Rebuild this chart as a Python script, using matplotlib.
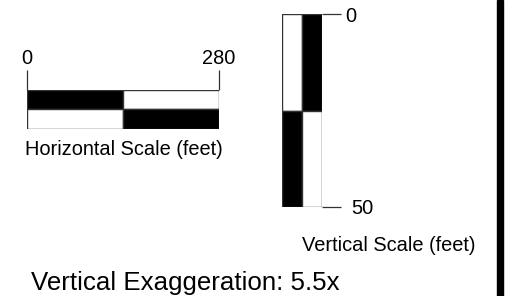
#!/usr/bin/env python3
# -*- coding: utf-8 -*-
# scale bars for a cross-section figure (horizontal / vertical scale in feet)
import matplotlib
matplotlib.use("Agg")
import matplotlib.pyplot as plt
from matplotlib.patches import Rectangle
from matplotlib.transforms import ScaledTranslation

# scale values (feet)
h_ticks = [0, 280]
h_segments = [(0, 140), (140, 140)]          # (start, length) along the bar
h_rows = [["black", "white"], ["white", "black"]]   # top row, bottom row

v_ticks = [0, 50]
v_segments = [(0, 25), (25, 25)]             # (start, length) down the bar
v_cols = [["white", "black"], ["black", "white"]]   # left column, right column

h_label = "Horizontal Scale (feet)"
v_label = "Vertical Scale (feet)"
exaggeration = 5.5

plt.rcParams["font.family"] = ["Liberation Sans", "DejaVu Sans"]

W, H = 514, 296
fig = plt.figure(figsize=(W / 100, H / 100), dpi=100)


def px(x0, y0, x1, y1):
    "pixel box (top-left origin) -> figure fraction rect"
    return [x0 / W, 1 - y1 / H, (x1 - x0) / W, (y1 - y0) / H]


edge = "#333333"

# horizontal scale bar
axh = fig.add_axes(px(27, 90, 219, 129))
for r, colors in enumerate(h_rows):
    starts = [s for s, _ in h_segments]
    widths = [w for _, w in h_segments]
    axh.barh([r + 0.5] * len(widths), widths, left=starts, height=1,
             color=colors, edgecolor=edge, linewidth=1.0)
axh.set_xlim(h_ticks[0], h_ticks[-1])
axh.set_ylim(len(h_rows), 0)
axh.set_yticks([])
axh.set_xticks(h_ticks)
axh.set_xticklabels([str(t) for t in h_ticks])
axh.xaxis.set_ticks_position("top")
axh.tick_params(axis="x", length=14.4, width=0.9, color=edge, pad=1.5,
                labelsize=14.4)
for s in axh.spines.values():
    s.set_visible(False)

# vertical scale bar
axv = fig.add_axes(px(282, 14, 322, 207))
for c, colors in enumerate(v_cols):
    starts = [s for s, _ in v_segments]
    heights = [h for _, h in v_segments]
    axv.bar([c + 0.5] * len(heights), heights, bottom=starts, width=1,
            color=colors, edgecolor=edge, linewidth=1.0)
axv.set_xlim(0, len(v_cols))
axv.set_ylim(v_ticks[-1], v_ticks[0])
axv.set_xticks([])
axv.set_yticks(v_ticks)
axv.set_yticklabels([str(t) for t in v_ticks])
axv.yaxis.set_ticks_position("right")
axv.tick_params(axis="y", length=13.7, width=0.9, color=edge, pad=1.5,
                labelsize=14.4)
# nudge the tick labels a little like the original
for lab, dx in zip(axv.get_yticklabels(), [2, 8]):
    lab.set_transform(lab.get_transform() +
                      ScaledTranslation(dx / 100, 0, fig.dpi_scale_trans))
for s in axv.spines.values():
    s.set_visible(False)

# captions
fig.text(25 / W, 1 - 155 / H, h_label, fontsize=14.4, va="baseline",
         ha="left")
fig.text(302 / W, 1 - 251 / H, v_label, fontsize=14.4, va="baseline",
         ha="left")
fig.text(31 / W, 1 - 290 / H, "Vertical Exaggeration: %gx" % exaggeration,
         fontsize=18.6, va="baseline", ha="left")

# black border on the right
fig.add_artist(Rectangle((497 / W, 0), 6 / W, 1, transform=fig.transFigure,
                         color="black"))

fig.savefig("out.png", dpi=100)
